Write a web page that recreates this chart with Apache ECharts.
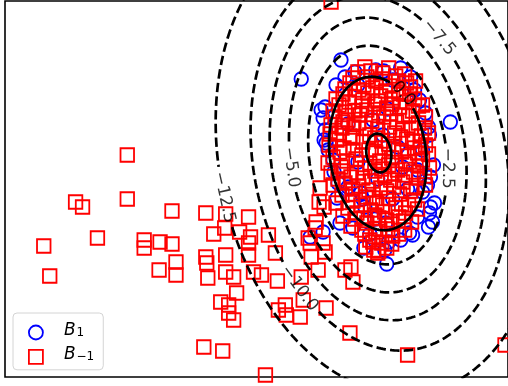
<!DOCTYPE html>
<html>
<head>
<meta charset="utf-8">
<script src="https://cdn.jsdelivr.net/npm/echarts@6/dist/echarts.min.js"></script>
<style>
  html, body { margin: 0; padding: 0; background: #fff; }
  #chart { width: 508px; height: 386px; }
</style>
</head>
<body>
<div id="chart"></div>
<script>
// Samples of class B_1 (x, y)
const classPos = [
  [29.8, 29.8], [33.8, 31.7], [34.2, 30.0], [33.3, 29.2], [32.2, 27.0], [32.0, 25.9],
  [39.8, 30.9], [37.3, 30.7], [38.1, 30.6], [40.8, 30.0], [41.2, 28.7], [42.3, 26.4],
  [44.8, 25.5], [42.6, 25.0], [42.7, 24.2], [43.1, 21.2], [42.8, 20.0], [42.5, 19.2],
  [42.0, 18.5], [43.2, 17.4], [42.8, 17.0], [42.7, 16.4], [43.0, 15.5], [41.5, 16.0],
  [41.0, 14.2], [39.8, 13.7], [38.6, 13.5], [38.2, 12.7], [38.4, 11.3], [36.1, 12.9],
  [40.7, 14.4], [42.6, 15.0], [32.1, 23.7], [33.1, 20.5], [33.7, 15.4], [30.7, 14.0],
  [32.0, 14.5], [31.8, 26.7], [32.2, 24.7], [32.3, 23.4], [33.5, 19.4], [34.5, 19.0],
  [35.8, 18.4], [36.2, 17.0], [38.3, 15.4], [35.2, 30.5], [32.5, 22.7], [33.0, 21.7],
  [33.4, 17.9], [35.0, 14.9], [36.7, 14.3], [41.5, 20.7], [42.0, 22.7], [41.7, 27.7],
  [39.0, 29.7], [35.5, 29.2], [37.0, 25.7], [38.5, 26.8], [39.5, 23.0], [35.5, 21.5],
  [37.5, 19.8], [39.0, 17.8], [36.0, 17.8], [40.5, 18.8], [37.2, 15.8], [34.5, 25.3],
  [38.0, 24.2], [40.0, 21.0]
];

// Samples of class B_{-1} (x, y)
const classNeg = [
  // main cluster
  [35.5, 30.5], [36.8, 30.6], [38.0, 30.4], [39.3, 30.1], [40.2, 30.3], [37.3, 29.6],
  [34.7, 29.4], [36.1, 29.2], [38.7, 29.1], [40.8, 29.0], [41.3, 29.6],
  [34.0, 28.3], [35.2, 28.0], [36.5, 28.4], [37.8, 28.1], [39.0, 27.9], [40.1, 28.3],
  [41.2, 27.8], [33.6, 27.2], [35.9, 27.1], [37.2, 27.3], [38.4, 26.9], [39.7, 27.0], [42.0, 27.2],
  [33.2, 26.0], [34.5, 25.7], [35.7, 26.2], [36.9, 25.6], [38.1, 26.0], [39.4, 25.5],
  [40.6, 26.1], [41.6, 25.4], [33.9, 24.9], [35.1, 25.0], [37.5, 24.8], [40.0, 24.7], [42.2, 24.9],
  [33.4, 23.7], [34.7, 24.1], [36.0, 23.5], [37.2, 23.9], [38.6, 23.3], [39.8, 24.0],
  [41.0, 23.6], [42.3, 23.2], [34.1, 22.9], [36.6, 22.7], [39.1, 22.8], [41.5, 22.4],
  [33.0, 22.0], [35.3, 21.8], [37.7, 21.6], [38.9, 21.9], [40.3, 21.3], [42.0, 21.7],
  [33.8, 21.0], [36.2, 20.9], [39.5, 20.7], [41.1, 20.5], [42.6, 22.3],
  [33.5, 19.8], [34.8, 20.0], [36.9, 19.6], [38.2, 20.1], [40.0, 19.5], [41.6, 19.9],
  [35.6, 19.1], [37.8, 18.9], [39.1, 19.0], [40.8, 18.6],
  [33.9, 18.2], [35.0, 17.6], [36.3, 18.0], [37.4, 17.4], [38.6, 17.9], [39.9, 17.3],
  [41.2, 17.7], [34.5, 16.9], [36.8, 16.7], [38.2, 16.5], [40.3, 16.4],
  [35.2, 15.8], [36.4, 15.4], [37.6, 15.9], [38.9, 15.3], [40.1, 15.6], [35.9, 14.7],
  [37.3, 14.5], [38.5, 14.8], [39.6, 14.3], [36.7, 13.7], [37.9, 13.4], [38.4, 12.9], [37.1, 12.7],
  [36.2, 31.0], [38.6, 30.9], [35.0, 29.9], [36.4, 30.0], [37.9, 29.8], [39.6, 29.6], [40.4, 29.4],
  [34.2, 28.8], [35.6, 28.7], [37.0, 28.9], [38.3, 28.6], [39.6, 28.5], [40.7, 28.3],
  [33.3, 27.8], [34.6, 27.5], [36.0, 27.7], [37.5, 27.6], [38.9, 27.3], [40.4, 27.5], [41.6, 27.1],
  [33.0, 26.6], [34.2, 26.5], [35.2, 26.6], [36.4, 26.7], [37.6, 26.4], [38.8, 26.3], [40.0, 26.2],
  [41.0, 26.6], [42.3, 26.0], [32.8, 25.2], [34.0, 25.5], [35.6, 25.4], [36.3, 24.9], [38.7, 25.0],
  [39.2, 24.4], [40.9, 24.9], [41.9, 24.1], [32.7, 24.3], [33.6, 24.4], [35.0, 23.9], [36.7, 24.2],
  [37.9, 23.6], [38.2, 22.9], [40.4, 23.8], [41.2, 22.9], [42.6, 24.4], [32.6, 23.2], [33.7, 22.5],
  [35.0, 22.7], [35.9, 22.2], [37.3, 22.4], [39.9, 22.5], [40.6, 22.1], [41.8, 23.0],
  [32.5, 21.4], [34.4, 21.6], [36.7, 21.4], [37.9, 20.8], [38.6, 21.2], [39.2, 20.3], [40.7, 21.5],
  [41.7, 21.1], [42.7, 20.9], [32.8, 20.4], [34.0, 20.6], [35.4, 20.4], [36.0, 19.9], [37.2, 20.6],
  [38.8, 19.7], [40.3, 20.2], [42.2, 20.1], [33.0, 19.2], [34.2, 19.4], [35.0, 18.8], [36.6, 18.7],
  [38.4, 18.6], [39.7, 18.3], [41.4, 18.9], [42.3, 19.2], [33.3, 17.4], [34.9, 18.3], [35.8, 17.2],
  [37.0, 17.9], [38.0, 17.2], [39.3, 16.9], [40.6, 17.2], [41.5, 16.8], [34.0, 16.1], [35.4, 16.4],
  [36.1, 15.9], [37.2, 16.2], [38.4, 15.7], [39.6, 16.0], [40.9, 15.5], [34.8, 15.1], [36.2, 14.3],
  [37.7, 14.8], [39.0, 14.1], [40.2, 14.7], [37.0, 13.5], [38.9, 13.3], [37.6, 12.6], [36.3, 13.0],
  // tail towards the lower left
  [31.7, 18.9], [31.6, 17.5], [32.1, 17.0], [31.3, 15.5], [31.2, 14.9], [30.5, 13.9],
  [30.7, 13.4], [32.0, 13.4], [32.2, 12.5], [30.8, 12.0], [31.5, 10.7], [29.8, 10.0],
  [34.2, 10.7], [35.0, 9.5], [34.8, 11.0], [37.5, 12.4], [30.0, 7.7], [28.2, 7.2],
  [27.5, 6.7], [28.3, 6.2], [29.7, 6.0], [32.3, 6.9], [34.7, 4.4], [27.2, 12.4],
  [27.4, 9.6], [24.5, 12.2], [25.0, 10.5], [25.8, 10.2], [26.5, 14.2], [24.7, 14.0],
  [24.5, 13.4], [23.6, 14.5], [22.1, 14.9], [21.0, 14.3], [24.5, 16.0], [22.2, 16.3],
  [20.2, 16.4], [16.8, 16.6], [12.3, 17.8], [12.3, 22.2], [7.1, 17.5], [7.8, 17.0],
  [9.3, 13.9], [3.9, 13.1], [14.0, 13.7], [14.0, 12.9], [15.6, 13.5], [16.8, 13.3],
  [17.2, 11.5], [20.2, 12.0], [22.2, 12.2], [4.5, 10.1], [15.5, 10.7], [17.2, 10.2],
  [20.3, 11.4], [20.4, 9.9], [22.2, 10.5], [23.0, 10.0], [21.7, 7.5], [22.5, 7.2],
  [22.5, 6.4], [23.0, 5.7], [23.3, 8.4], [20.0, 3.0], [21.9, 2.6], [26.2, 0.2],
  // isolated points
  [40.5, 2.2], [50.3, 3.2], [32.8, 37.5]
];

// Decision-function contour levels, each traced as a tilted ellipse
const contourLevels = [2.5, 0.0, -2.5, -5.0, -7.5, -10.0, -12.5];
const contourCenterX = [37.6, 37.5, 37.5, 37.5, 37.5, 37.7, 37.6];
const contourCenterY = [22.4, 22.35, 22.2, 22.2, 21.9, 21.7, 21.7];
const contourSemiX = [1.25, 4.84, 6.9, 8.81, 10.7, 12.7, 16.0];
const contourSemiY = [1.95, 7.72, 11.0, 13.82, 16.34, 19.26, 23.69];
const contourTiltDeg = [8, 8, 8, 8, 9, 11, 12];
// where along each contour its inline label sits (ellipse parameter, degrees)
const labelParamDeg = [null, 46, -12, 180, 42, 215, 181];

const PX_PER_UNIT = 10;
const LABEL_FONT = 17;

function ellipsePoint(i, tDeg) {
  const t = tDeg * Math.PI / 180, p = contourTiltDeg[i] * Math.PI / 180;
  const u = contourSemiX[i] * Math.cos(t), v = contourSemiY[i] * Math.sin(t);
  return [contourCenterX[i] + u * Math.cos(p) - v * Math.sin(p),
          contourCenterY[i] + u * Math.sin(p) + v * Math.cos(p)];
}
function ellipseTangentDeg(i, tDeg) {
  const t = tDeg * Math.PI / 180, p = contourTiltDeg[i] * Math.PI / 180;
  const du = -contourSemiX[i] * Math.sin(t), dv = contourSemiY[i] * Math.cos(t);
  const dx = du * Math.cos(p) - dv * Math.sin(p), dy = du * Math.sin(p) + dv * Math.cos(p);
  let a = Math.atan2(dy, dx) * 180 / Math.PI;
  if (a > 90) a -= 180;
  if (a < -90) a += 180;
  return a;
}
function levelText(v) {
  return (v < 0 ? '\u2212' : '') + Math.abs(v).toFixed(1);
}

const measureCtx = document.createElement('canvas').getContext('2d');
measureCtx.font = LABEL_FONT + 'px "DejaVu Sans"';

const contourSeries = [];
const labelData = [];
contourLevels.forEach((lev, i) => {
  let centre = null, halfGap = 0;
  if (labelParamDeg[i] !== null) {
    const txt = levelText(lev);
    centre = ellipsePoint(i, labelParamDeg[i]);
    halfGap = (measureCtx.measureText(txt).width / 2 + 4) / PX_PER_UNIT;
    labelData.push({ name: txt, value: centre, label: { rotate: ellipseTangentDeg(i, labelParamDeg[i]) } });
  }
  const runs = [];
  let run = [];
  const N = 720;
  for (let k = 0; k <= N; k++) {
    const q = ellipsePoint(i, k * 360 / N);
    const hidden = centre && Math.hypot(q[0] - centre[0], q[1] - centre[1]) < halfGap;
    if (hidden) {
      if (run.length > 1) runs.push(run);
      run = [];
    } else {
      run.push(q);
    }
  }
  if (run.length > 1) {
    if (runs.length && centre) runs[0] = run.concat(runs[0]);
    else runs.push(run);
  }
  runs.forEach(r => contourSeries.push({
    type: 'line',
    data: r,
    symbol: 'none',
    silent: true,
    clip: true,
    z: 3,
    lineStyle: { color: '#000', width: 2.7, type: lev < 0 ? [9.5, 4.2] : 'solid', cap: 'butt' }
  }));
});

const chart = echarts.init(document.getElementById('chart'), null, { renderer: 'canvas' });
chart.setOption({
  animation: false,
  grid: { left: 5, right: -3, top: 1, bottom: 9, show: true, borderColor: '#000', borderWidth: 1.6, backgroundColor: '#fff' },
  xAxis: { type: 'value', min: 0, max: 50.6, show: false },
  yAxis: { type: 'value', min: 0, max: 37.6, show: false },
  legend: {
    left: 13, top: 313, orient: 'vertical',
    itemWidth: 14, itemHeight: 14, itemGap: 6,
    padding: [9, 9, 5, 15],
    backgroundColor: '#fff', borderColor: '#d4d4d4', borderWidth: 1, borderRadius: 4,
    selectedMode: false,
    data: [
      { name: 'B_1', icon: 'circle', itemStyle: { color: 'rgba(0,0,0,0)', borderColor: '#0000ff', borderWidth: 1.8 } },
      { name: 'B_{-1}', icon: 'rect', itemStyle: { color: 'rgba(0,0,0,0)', borderColor: '#ff0000', borderWidth: 1.8 } }
    ],
    formatter: name => name === 'B_1' ? '{b|B}{s|1}' : '{b|B}{s|\u22121}',
    textStyle: {
      rich: {
        b: { fontFamily: 'DejaVu Sans', fontStyle: 'italic', fontSize: 17, color: '#000', padding: [0, 0, 4, 16] },
        s: { fontFamily: 'DejaVu Sans', fontSize: 12, color: '#000', padding: [0, 0, 0, 1] }
      }
    }
  },
  series: [
    {
      name: 'B_1', type: 'scatter', data: classPos, symbol: 'circle', symbolSize: 13.5, silent: true, z: 2,
      itemStyle: { color: 'rgba(0,0,0,0)', borderColor: '#0000ff', borderWidth: 1.8, opacity: 1 }
    },
    {
      name: 'B_{-1}', type: 'scatter', data: classNeg, symbol: 'rect', symbolSize: 13.5, silent: true, z: 2,
      itemStyle: { color: 'rgba(0,0,0,0)', borderColor: '#ff0000', borderWidth: 1.8, opacity: 1 }
    },
    ...contourSeries,
    {
      type: 'scatter', data: labelData, symbolSize: 1, silent: true, z: 4,
      itemStyle: { color: 'rgba(0,0,0,0)' },
      label: { show: true, position: 'inside', color: '#000', fontSize: LABEL_FONT, fontFamily: 'DejaVu Sans', formatter: p => p.name }
    }
  ]
});
</script>
</body>
</html>
